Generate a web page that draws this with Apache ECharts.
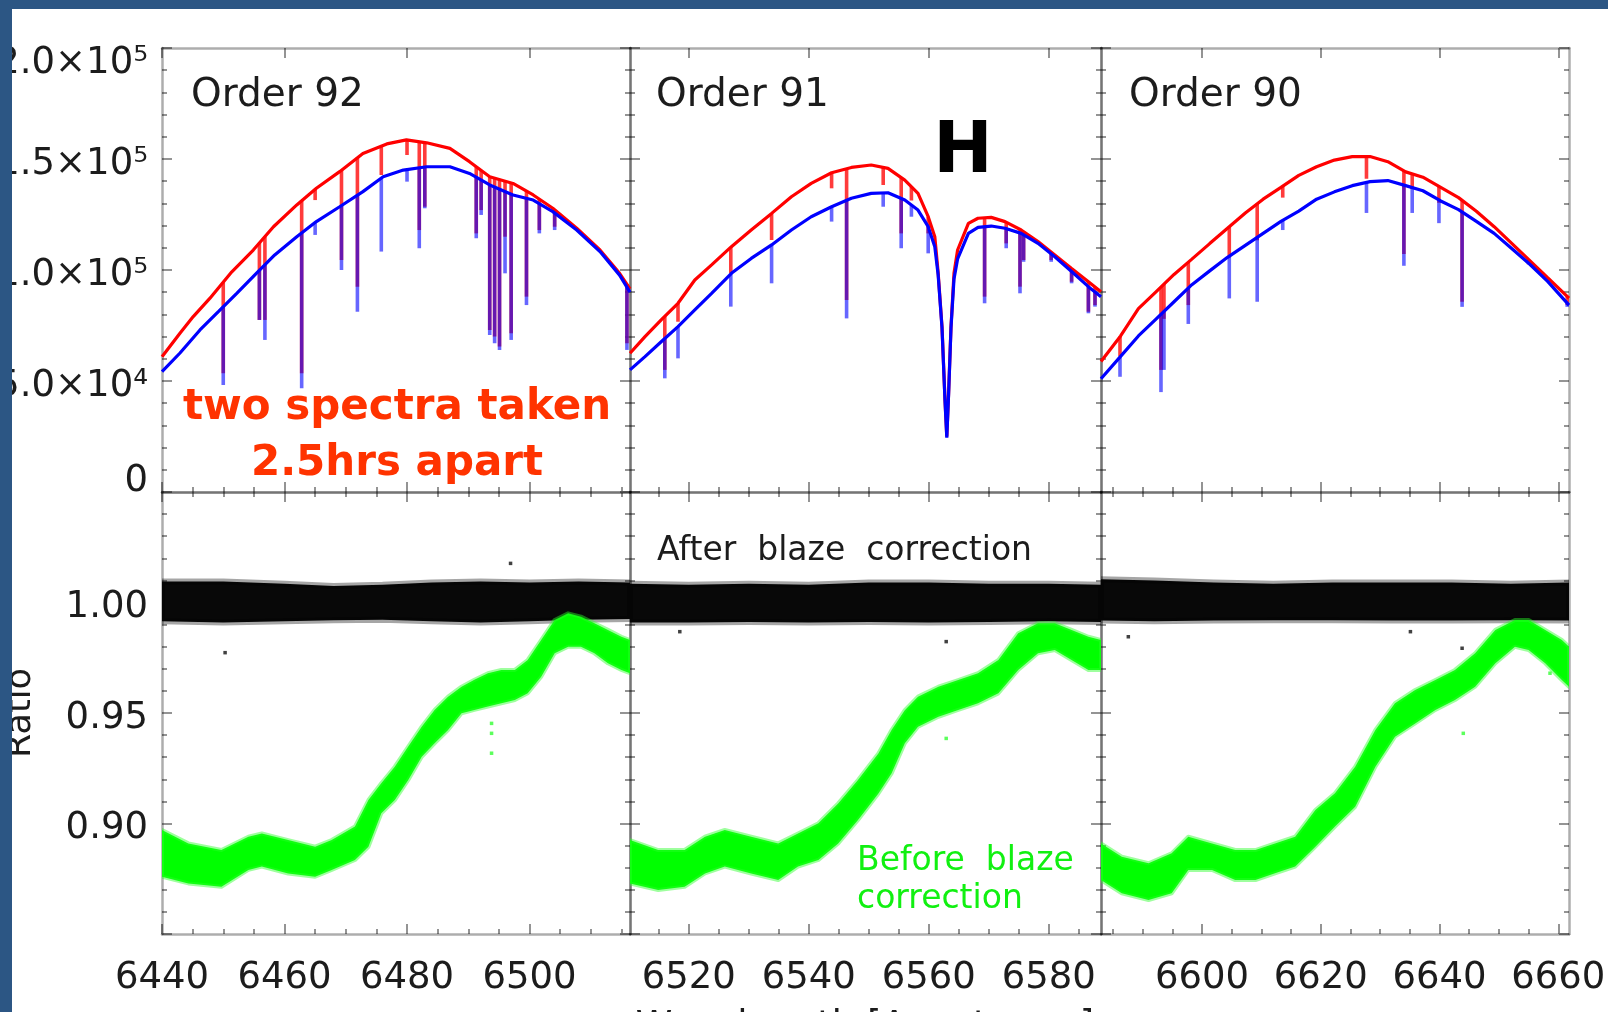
<!DOCTYPE html>
<html>
<head>
<meta charset="utf-8">
<title>Echelle orders 92, 91, 90 before and after blaze correction</title>
<script src="https://cdn.jsdelivr.net/npm/echarts@6/dist/echarts.min.js"></script>
<style>
  html, body { margin: 0; padding: 0; background: #ffffff; }
  #chart { width: 1608px; height: 1012px; }
</style>
</head>
<body>
<div id="chart"></div>
<script>
// ---------------- data ----------------
const panelTitles = ['Order 92', 'Order 91', 'Order 90'];
const wavelengthRanges = [[6440.0, 6516.4], [6510.2, 6588.7], [6583.0, 6661.8]];
const wavelengthTicks = [[6440, 6460, 6480, 6500], [6520, 6540, 6560, 6580], [6600, 6620, 6640, 6660]];
const fluxTicks = [0, 50000, 100000, 150000, 200000];
const fluxTickLabels = ['0', '5.0×10⁴', '1.0×10⁵', '1.5×10⁵', '2.0×10⁵'];
const ratioTicks = [0.90, 0.95, 1.00];

// spectrum taken first (red) and 2.5 h later (blue): [wavelength, counts]
const redOrder92 = [[6440.0,60900],[6442.9,71400],[6445.1,79000],[6447.8,87200],[6451.4,99200],[6454.9,109000],[6458.2,119500],[6462.0,129300],[6465.2,136800],[6469.0,144300],[6472.8,152500],[6476.7,156800],[6479.9,158600],[6483.2,157300],[6487.0,154800],[6490.2,148800],[6493.5,142000],[6497.3,139000],[6500.6,133800],[6503.8,127800],[6507.7,118800],[6511.5,109000],[6514.7,98500],[6516.4,91500]];
const blueOrder92 = [[6440.0,54200],[6442.9,62500],[6446.2,73000],[6449.2,81200],[6452.2,89500],[6455.4,98500],[6458.4,106800],[6462.0,115000],[6465.2,121800],[6469.0,128500],[6472.8,135300],[6476.1,142000],[6479.4,145000],[6483.2,146500],[6487.0,146500],[6490.2,143500],[6493.5,138300],[6497.3,133800],[6500.6,131500],[6503.8,126300],[6507.7,118000],[6511.5,108300],[6514.7,97700],[6516.4,90000]];
const redOrder91 = [[6510.2,62500],[6512.7,70000],[6515.4,77500],[6518.2,85000],[6521.0,95500],[6523.8,102300],[6527.1,110500],[6530.4,118000],[6533.8,125500],[6537.1,133000],[6540.4,139000],[6543.8,143800],[6547.1,146200],[6550.4,147300],[6553.2,145800],[6556.0,140500],[6558.2,134500],[6559.9,124000],[6561.0,115000],[6561.55,99000],[6562.2,74500],[6562.7,41500],[6563.0,25000],[6563.3,44500],[6563.7,74500],[6564.2,98500],[6564.8,109000],[6566.6,121000],[6568.2,123300],[6570.4,123700],[6572.7,121800],[6575.4,118000],[6578.2,112800],[6581.0,106800],[6583.8,100700],[6586.6,94700],[6588.7,90200]];
const blueOrder91 = [[6510.2,55000],[6512.7,61000],[6515.4,67700],[6518.2,74500],[6521.0,82000],[6523.8,89500],[6527.1,98500],[6530.4,105200],[6533.8,111300],[6537.1,118000],[6540.4,124000],[6543.8,128500],[6547.1,132300],[6550.4,134500],[6553.2,134800],[6556.0,131500],[6558.2,127000],[6559.9,119500],[6561.0,110500],[6561.55,98000],[6562.2,74000],[6562.7,41000],[6563.0,24500],[6563.3,44000],[6563.7,74000],[6564.2,96000],[6564.8,105000],[6566.6,116500],[6568.2,119200],[6570.4,119800],[6572.7,118800],[6575.4,116500],[6578.2,112000],[6581.0,106000],[6583.8,99300],[6586.6,92500],[6588.7,88000]];
const redOrder90 = [[6583.0,58800],[6586.3,70300],[6589.3,82600],[6592.3,90300],[6595.3,98000],[6598.3,104900],[6601.3,111900],[6604.3,118800],[6607.3,125700],[6610.3,131900],[6613.3,137200],[6616.3,142600],[6619.3,146500],[6622.3,149500],[6625.3,151100],[6628.3,151100],[6631.3,148800],[6634.3,144200],[6637.2,141800],[6640.2,137200],[6643.2,132600],[6646.2,126500],[6649.2,119500],[6652.2,111900],[6655.2,104200],[6658.2,96500],[6661.8,87300]];
const blueOrder90 = [[6583.0,51000],[6586.3,61100],[6589.3,70300],[6592.3,78000],[6595.3,85700],[6598.3,93400],[6601.3,99600],[6604.3,105700],[6607.3,111100],[6610.3,116500],[6613.3,121900],[6616.3,126500],[6619.3,131900],[6622.3,135200],[6625.3,138000],[6628.3,139800],[6631.3,140300],[6634.3,138000],[6637.2,135700],[6640.2,131100],[6643.2,127200],[6646.2,121900],[6649.2,116500],[6652.2,109600],[6655.2,102600],[6658.2,94900],[6661.8,84200]];

// absorption lines: [wavelength, counts at line bottom]
const redLines92 = [[6450.0,53500],[6455.9,77500],[6456.8,77500],[6462.8,53500],[6465.0,131500],[6469.3,104500],[6471.9,92500],[6475.8,142800],[6480.0,151800],[6482.0,118000],[6482.9,128500],[6491.3,116500],[6492.1,127000],[6493.5,73000],[6494.3,70000],[6495.1,65500],[6496.0,115000],[6497.0,71500],[6499.5,88000],[6501.6,118000],[6504.1,119500],[6515.9,67000]];
const blueLines92 = [[6450.0,48200],[6455.9,77500],[6456.8,68500],[6462.8,46700],[6465.0,115800],[6469.3,100000],[6471.9,81200],[6475.8,108300],[6480.0,139800],[6482.0,109800],[6482.9,127800],[6491.3,114300],[6492.1,124800],[6493.5,70700],[6494.3,67000],[6495.1,64000],[6496.0,98500],[6497.0,68500],[6499.5,84200],[6501.6,116500],[6504.1,118000],[6515.9,64000]];
const redLines91 = [[6516.0,55000],[6518.2,76700],[6527.0,98500],[6533.8,113500],[6543.8,136800],[6546.3,86500],[6552.4,138300],[6555.4,116500],[6557.1,131300],[6559.9,116500],[6569.3,88000],[6572.9,112000],[6575.2,92500],[6575.8,104500],[6580.4,104500],[6583.8,94700],[6586.6,81200],[6587.7,84200]];
const blueLines91 = [[6516.0,51200],[6518.2,60200],[6527.0,83500],[6533.8,94000],[6543.8,121800],[6546.3,78200],[6552.4,128500],[6555.4,109800],[6557.1,124000],[6559.9,107500],[6569.3,85000],[6572.9,109800],[6575.2,89500],[6575.8,103700],[6580.4,103700],[6583.8,94000],[6586.6,80500],[6587.7,83500]];
const redLines90 = [[6586.2,61100],[6593.1,55000],[6593.6,78000],[6597.7,84200],[6604.6,105700],[6609.3,113400],[6613.6,132600],[6627.7,141100],[6634.0,107200],[6635.4,136500],[6639.9,130300],[6643.8,85700],[6655.0,102600],[6661.5,84200]];
const blueLines90 = [[6586.2,51900],[6593.1,45000],[6593.6,55000],[6597.7,75700],[6604.6,87200],[6609.3,85700],[6613.6,118000],[6627.7,125700],[6634.0,101900],[6635.4,125700],[6639.9,121100],[6643.8,83400],[6655.0,102600],[6661.5,83400]];

// ratio of the two spectra: [wavelength, lower edge, upper edge] of the point cloud
const ratioAfter92 = [[6440,0.9915,1.0095],[6450,0.9910,1.0095],[6460,0.9915,1.0085],[6468,0.9920,1.0075],[6476,0.9922,1.0080],[6484,0.9915,1.0090],[6492,0.9910,1.0095],[6500,0.9915,1.0090],[6508,0.9922,1.0095],[6516.4,0.9925,1.0090]];
const ratioAfter91 = [[6510.2,0.9910,1.0085],[6520,0.9910,1.0080],[6530,0.9912,1.0085],[6540,0.9910,1.0080],[6550,0.9912,1.0090],[6560,0.9910,1.0090],[6570,0.9912,1.0085],[6580,0.9915,1.0085],[6588.7,0.9912,1.0080]];
const ratioAfter90 = [[6583.0,0.9918,1.0105],[6592,0.9915,1.0100],[6602,0.9918,1.0090],[6612,0.9920,1.0085],[6622,0.9920,1.0090],[6632,0.9918,1.0090],[6642,0.9918,1.0090],[6652,0.9920,1.0085],[6661.8,0.9918,1.0090]];
const ratioBefore92 = [[6440.0,0.8759,0.8971],[6444.3,0.8729,0.8910],[6449.7,0.8714,0.8880],[6454.1,0.8790,0.8940],[6456.3,0.8805,0.8955],[6460.6,0.8774,0.8925],[6465.0,0.8759,0.8895],[6467.7,0.8790,0.8925],[6471.5,0.8835,0.8986],[6473.7,0.8895,0.9106],[6475.8,0.9046,0.9182],[6478.0,0.9106,0.9257],[6480.2,0.9197,0.9348],[6482.4,0.9302,0.9438],[6484.5,0.9363,0.9514],[6486.7,0.9423,0.9574],[6488.9,0.9499,0.9619],[6491.0,0.9514,0.9650],[6493.2,0.9529,0.9680],[6495.4,0.9544,0.9695],[6497.6,0.9559,0.9695],[6499.7,0.9589,0.9740],[6501.9,0.9664,0.9830],[6504.1,0.9770,0.9921],[6506.3,0.9800,0.9951],[6508.4,0.9800,0.9936],[6510.6,0.9770,0.9906],[6512.8,0.9725,0.9876],[6515.0,0.9695,0.9845],[6516.4,0.9680,0.9830]];
const ratioBefore91 = [[6510.2,0.8729,0.8925],[6514.9,0.8699,0.8880],[6519.3,0.8714,0.8880],[6522.7,0.8774,0.8940],[6526.0,0.8805,0.8971],[6530.4,0.8774,0.8940],[6534.9,0.8744,0.8910],[6538.2,0.8805,0.8955],[6541.6,0.8835,0.9001],[6544.9,0.8910,0.9091],[6548.2,0.9016,0.9197],[6551.6,0.9136,0.9317],[6553.8,0.9227,0.9423],[6556.0,0.9363,0.9513],[6558.2,0.9438,0.9574],[6561.6,0.9483,0.9619],[6564.9,0.9514,0.9649],[6568.2,0.9544,0.9680],[6571.6,0.9589,0.9740],[6574.9,0.9695,0.9861],[6578.2,0.9770,0.9906],[6581.0,0.9785,0.9906],[6583.8,0.9740,0.9876],[6586.6,0.9695,0.9845],[6588.7,0.9695,0.9830]];
const ratioBefore90 = [[6583.0,0.8744,0.8910],[6586.5,0.8684,0.8850],[6591.0,0.8654,0.8820],[6594.9,0.8684,0.8865],[6597.7,0.8790,0.8940],[6601.7,0.8790,0.8910],[6605.6,0.8744,0.8880],[6609.0,0.8744,0.8880],[6612.3,0.8775,0.8910],[6615.7,0.8805,0.8940],[6619.1,0.8895,0.9061],[6622.4,0.8986,0.9137],[6625.8,0.9076,0.9257],[6629.2,0.9257,0.9423],[6632.5,0.9393,0.9544],[6635.9,0.9453,0.9604],[6639.3,0.9514,0.9649],[6642.6,0.9559,0.9695],[6646.0,0.9619,0.9770],[6649.4,0.9725,0.9876],[6652.7,0.9800,0.9921],[6655.0,0.9785,0.9921],[6657.8,0.9725,0.9876],[6660.6,0.9649,0.9830],[6661.8,0.9619,0.9800]];

// isolated ratio points away from the clouds
const afterStrays92 = [[6450.3,0.9773],[6496.9,1.0177]];
const afterStrays91 = [[6562.9,0.9823],[6518.5,0.9868]];
const afterStrays90 = [[6635.1,0.9868],[6587.6,0.9845],[6643.8,0.9793]];
const beforeStrays92 = [[6493.8,0.9453],[6493.8,0.9408],[6493.8,0.9318]];
const beforeStrays91 = [[6562.9,0.9385]];
const beforeStrays90 = [[6644.0,0.9408],[6658.6,0.9680]];

// ---------------- layout ----------------
const FONT = "'DejaVu Sans', 'Liberation Sans', sans-serif";
const PANEL_LEFT = [162, 630, 1101];
const PANEL_WIDTH = [468, 471, 468];
const UPPER_TOP = 48, UPPER_HEIGHT = 444;
const LOWER_TOP = 492, LOWER_HEIGHT = 442;

const panels = [
  { red: redOrder92, blue: blueOrder92, redLines: redLines92, blueLines: blueLines92,
    after: ratioAfter92, before: ratioBefore92, afterStrays: afterStrays92, beforeStrays: beforeStrays92 },
  { red: redOrder91, blue: blueOrder91, redLines: redLines91, blueLines: blueLines91,
    after: ratioAfter91, before: ratioBefore91, afterStrays: afterStrays91, beforeStrays: beforeStrays91 },
  { red: redOrder90, blue: blueOrder90, redLines: redLines90, blueLines: blueLines90,
    after: ratioAfter90, before: ratioBefore90, afterStrays: afterStrays90, beforeStrays: beforeStrays90 }
];

const axisLineStyle = { color: 'rgba(0,0,0,0.32)', width: 2.5 };
const tickStyle = { color: 'rgba(0,0,0,0.42)', width: 2 };
const labelColor = '#1c1c1c';

const grids = [], xAxes = [], yAxes = [], series = [];

function minorValues(range, step) {
  const out = [];
  for (let v = Math.ceil(range[0] / step) * step; v <= range[1] + 1e-9; v += step) out.push(v);
  return out;
}

// returns index of the first x axis created for the grid
function addXAxes(g, range, majors, withLabels) {
  const first = xAxes.length;
  const minors = minorValues(range, 5);
  ['bottom', 'top'].forEach(function (pos) {
    xAxes.push({
      gridIndex: g, type: 'value', position: pos, min: range[0], max: range[1],
      axisLine: { show: true, onZero: false, lineStyle: axisLineStyle },
      axisTick: { show: true, inside: true, length: 10, customValues: majors, lineStyle: tickStyle },
      axisLabel: { show: withLabels && pos === 'bottom', customValues: majors, margin: 26,
                   fontSize: 37, fontFamily: FONT, color: labelColor,
                   formatter: function (v) { return String(v); } },
      splitLine: { show: false }
    });
    xAxes.push({
      gridIndex: g, type: 'value', position: pos, min: range[0], max: range[1],
      axisLine: { show: false },
      axisTick: { show: true, inside: true, length: 5, customValues: minors, lineStyle: tickStyle },
      axisLabel: { show: false },
      splitLine: { show: false }
    });
  });
  return first;
}

function addYAxes(g, min, max, interval, labelOpt) {
  const first = yAxes.length;
  ['left', 'right'].forEach(function (pos) {
    yAxes.push({
      gridIndex: g, type: 'value', position: pos, min: min, max: max, interval: interval,
      axisLine: { show: true, onZero: false, lineStyle: axisLineStyle },
      axisTick: { show: true, inside: true, length: 10, lineStyle: tickStyle },
      minorTick: { show: true, splitNumber: 5, length: 5, lineStyle: tickStyle },
      axisLabel: (pos === 'left' && labelOpt) ? labelOpt : { show: false },
      splitLine: { show: false },
      minorSplitLine: { show: false }
    });
  });
  return first;
}

// value of a drawn spectrum at wavelength w (piecewise linear, as the line is drawn)
function spectrumAt(spec, w) {
  for (let k = 0; k < spec.length - 1; k++) {
    const a = spec[k], b = spec[k + 1];
    if (w >= a[0] && w <= b[0]) return a[1] + (b[1] - a[1]) * (w - a[0]) / (b[0] - a[0]);
  }
  return w < spec[0][0] ? spec[0][1] : spec[spec.length - 1][1];
}

function lineDips(xi, yi, lines, spec, color, z) {
  return {
    type: 'custom', xAxisIndex: xi, yAxisIndex: yi, data: lines, z: z, clip: true, silent: true,
    renderItem: function (params, api) {
      const w = api.value(0), bottom = api.value(1);
      const top = spectrumAt(spec, w);
      if (bottom >= top) return null;
      const p1 = api.coord([w, top]), p2 = api.coord([w, bottom]);
      return { type: 'line', shape: { x1: p1[0], y1: p1[1], x2: p2[0], y2: p2[1] },
               style: { stroke: color, lineWidth: 3.6 } };
    }
  };
}

function spectrumLine(xi, yi, spec, color, z) {
  return {
    type: 'line', xAxisIndex: xi, yAxisIndex: yi, data: spec, z: z, clip: true, silent: true,
    symbol: 'none', showSymbol: false, smooth: false,
    lineStyle: { color: color, width: 3.2 }
  };
}

function cloudBand(xi, yi, band, fill, edge, edgeWidth, z) {
  return {
    type: 'custom', xAxisIndex: xi, yAxisIndex: yi, data: band, z: z, clip: true, silent: true,
    renderItem: function (params, api) {
      if (params.dataIndex !== 0) return null;
      const pts = [];
      for (let k = 0; k < band.length; k++) pts.push(api.coord([band[k][0], band[k][2]]));
      for (let k = band.length - 1; k >= 0; k--) pts.push(api.coord([band[k][0], band[k][1]]));
      return { type: 'polygon', shape: { points: pts },
               style: { fill: fill, stroke: edge, lineWidth: edgeWidth, lineJoin: 'round' } };
    }
  };
}

function strayPoints(xi, yi, pts, color, z) {
  return {
    type: 'scatter', xAxisIndex: xi, yAxisIndex: yi, data: pts, z: z, silent: true,
    symbol: 'rect', symbolSize: 3.5, itemStyle: { color: color }
  };
}

const richBase = { fontSize: 37, fontFamily: FONT, color: labelColor };
const fluxLabel = {
  show: true, margin: 14, fontSize: 37, fontFamily: FONT, color: labelColor,
  formatter: function (v) {
    const i = fluxTicks.indexOf(v);
    if (i < 0) return '';
    if (i === fluxTicks.length - 1) return '{hi|' + fluxTickLabels[i] + '}';
    if (i === 0) return '{lo|' + fluxTickLabels[i] + '}';
    return '{mid|' + fluxTickLabels[i] + '}';
  },
  rich: {
    hi: Object.assign({ padding: [30, 0, 0, 0] }, richBase),
    mid: Object.assign({ padding: [11, 0, 0, 0] }, richBase),
    lo: Object.assign({ padding: [0, 0, 22, 0] }, richBase)
  }
};
const ratioLabel = {
  show: true, margin: 14, fontSize: 37, fontFamily: FONT, color: labelColor,
  customValues: ratioTicks,
  formatter: function (v) { return '{mid|' + v.toFixed(2) + '}'; },
  rich: { mid: Object.assign({ padding: [10, 0, 0, 0] }, richBase) }
};

panels.forEach(function (p, i) {
  const range = wavelengthRanges[i];
  // upper: raw spectra
  const gU = grids.length;
  grids.push({ left: PANEL_LEFT[i], top: UPPER_TOP, width: PANEL_WIDTH[i], height: UPPER_HEIGHT,
               containLabel: false, outerBoundsMode: 'none' });
  const xU = addXAxes(gU, range, wavelengthTicks[i], false);
  const yU = addYAxes(gU, 0, 200000, 50000, i === 0 ? fluxLabel : null);
  series.push(lineDips(xU, yU, p.redLines, p.red, 'rgba(255,25,25,0.85)', 2));
  series.push(spectrumLine(xU, yU, p.red, '#ff0000', 3));
  series.push(lineDips(xU, yU, p.blueLines, p.blue, 'rgba(0,0,255,0.6)', 4));
  series.push(spectrumLine(xU, yU, p.blue, '#0000ff', 5));

  // lower: ratio before / after blaze correction
  const gL = grids.length;
  grids.push({ left: PANEL_LEFT[i], top: LOWER_TOP, width: PANEL_WIDTH[i], height: LOWER_HEIGHT,
               containLabel: false, outerBoundsMode: 'none' });
  const xL = addXAxes(gL, range, wavelengthTicks[i], true);
  const yL = addYAxes(gL, 0.85, 1.05, 0.05, i === 0 ? ratioLabel : null);
  series.push(cloudBand(xL, yL, p.after, '#080808', 'rgba(0,0,0,0.35)', 6, 2));
  series.push(cloudBand(xL, yL, p.before, '#00ff00', 'rgba(40,255,40,0.45)', 4, 3));
  series.push(strayPoints(xL, yL, p.afterStrays, '#111111', 4));
  series.push(strayPoints(xL, yL, p.beforeStrays, '#33ff33', 4));
});

function text(x, y, str, font, fill, align, vAlign, extra) {
  const el = { type: 'text', x: x, y: y, z: 50, silent: true,
    style: { text: str, font: font, fill: fill, textAlign: align, textVerticalAlign: vAlign,
             align: align, verticalAlign: vAlign } };
  return Object.assign(el, extra || {});
}

const graphics = [
  text(191, 76, panelTitles[0], "39px " + FONT, '#1c1c1c', 'left', 'top'),
  text(656, 76, panelTitles[1], "39px " + FONT, '#1c1c1c', 'left', 'top'),
  text(1129, 76, panelTitles[2], "39px " + FONT, '#1c1c1c', 'left', 'top'),
  text(963, 154, 'H', "bold 71px " + FONT, '#000000', 'center', 'middle'),
  text(397, 408, 'two spectra taken', "bold 42px " + FONT, '#ff3300', 'center', 'middle'),
  text(397, 464, '2.5hrs apart', "bold 42px " + FONT, '#ff3300', 'center', 'middle'),
  text(657, 551, 'After  blaze  correction', "33px " + FONT, '#1c1c1c', 'left', 'middle'),
  text(857, 861, 'Before  blaze', "33px " + FONT, '#11f011', 'left', 'middle'),
  text(857, 899, 'correction', "33px " + FONT, '#11f011', 'left', 'middle'),
  text(21, 713, 'Ratio', "35px " + FONT, '#1c1c1c', 'center', 'middle', { rotation: Math.PI / 2 }),
  text(865, 1009, 'Wavelength [Angstroms]', "37px " + FONT, '#1c1c1c', 'center', 'top'),
  // slide frame
  { type: 'rect', z: 100, silent: true, shape: { x: 0, y: 0, width: 12, height: 1012 }, style: { fill: '#2c5684' } },
  { type: 'rect', z: 100, silent: true, shape: { x: 0, y: 0, width: 1608, height: 9 }, style: { fill: '#2c5684' } }
];

const chart = echarts.init(document.getElementById('chart'), null, { renderer: 'canvas', width: 1608, height: 1012 });
chart.setOption({
  animation: false,
  backgroundColor: '#ffffff',
  grid: grids,
  xAxis: xAxes,
  yAxis: yAxes,
  series: series,
  graphic: { elements: graphics }
});
</script>
</body>
</html>
